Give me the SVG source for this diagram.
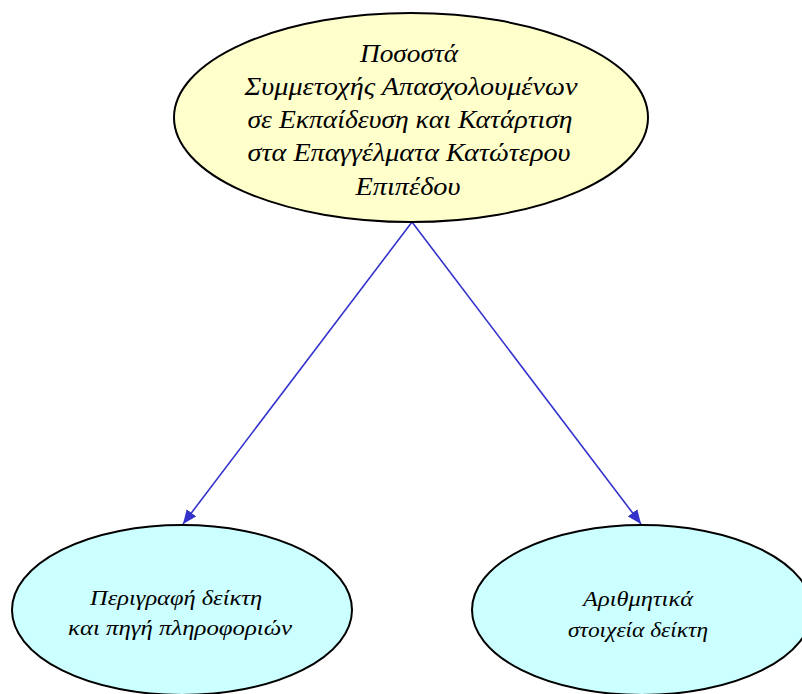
<svg xmlns="http://www.w3.org/2000/svg" width="802" height="694" viewBox="0 0 802 694">
<style>
.node ellipse{stroke:#000;stroke-width:2}
.top ellipse{fill:#ffffcc}
.leaf ellipse{fill:#ccffff}
text{font-family:"Liberation Serif","DejaVu Serif",serif;font-style:italic;fill:#000;text-anchor:middle}
.top text{font-size:25px}
.leaf text{font-size:21px}
.edge{stroke:#3333cc;stroke-width:1.6;fill:none}
</style>
<defs>
<marker id="arrB" viewBox="0 0 14 12" refX="14" refY="6" markerWidth="14" markerHeight="12" markerUnits="userSpaceOnUse" orient="auto">
<path d="M0,0 L14,6 L0,12 z" fill="#3333cc"/>
</marker>
</defs>
<rect width="802" height="694" fill="#fff"/>
<g id="connectors">
<line class="edge" x1="412" y1="222" x2="183" y2="524" marker-end="url(#arrB)"/>
<line class="edge" x1="412" y1="222" x2="641" y2="524" marker-end="url(#arrB)"/>
</g>
<g id="node-main" class="node top">
<ellipse cx="411" cy="117.5" rx="237" ry="104.5"/>
<text x="409" y="62" textLength="98" lengthAdjust="spacingAndGlyphs">Ποσοστά</text>
<text x="411" y="95" textLength="333" lengthAdjust="spacingAndGlyphs">Συμμετοχής Απασχολουμένων</text>
<text x="410" y="128" textLength="325" lengthAdjust="spacingAndGlyphs">σε Εκπαίδευση και Κατάρτιση</text>
<text x="409" y="161" textLength="323" lengthAdjust="spacingAndGlyphs">στα Επαγγέλματα Κατώτερου</text>
<text x="408" y="195" textLength="105" lengthAdjust="spacingAndGlyphs">Επιπέδου</text>
</g>
<g id="node-description" class="node leaf">
<ellipse cx="182" cy="610" rx="170" ry="85"/>
<text x="176" y="605" textLength="172" lengthAdjust="spacingAndGlyphs">Περιγραφή δείκτη</text>
<text x="180" y="635" textLength="224" lengthAdjust="spacingAndGlyphs">και πηγή πληροφοριών</text>
</g>
<g id="node-numbers" class="node leaf">
<ellipse cx="642" cy="610" rx="170" ry="85"/>
<text x="638" y="606" textLength="110" lengthAdjust="spacingAndGlyphs">Αριθμητικά</text>
<text x="638" y="637" textLength="140" lengthAdjust="spacingAndGlyphs">στοιχεία δείκτη</text>
</g>
</svg>
